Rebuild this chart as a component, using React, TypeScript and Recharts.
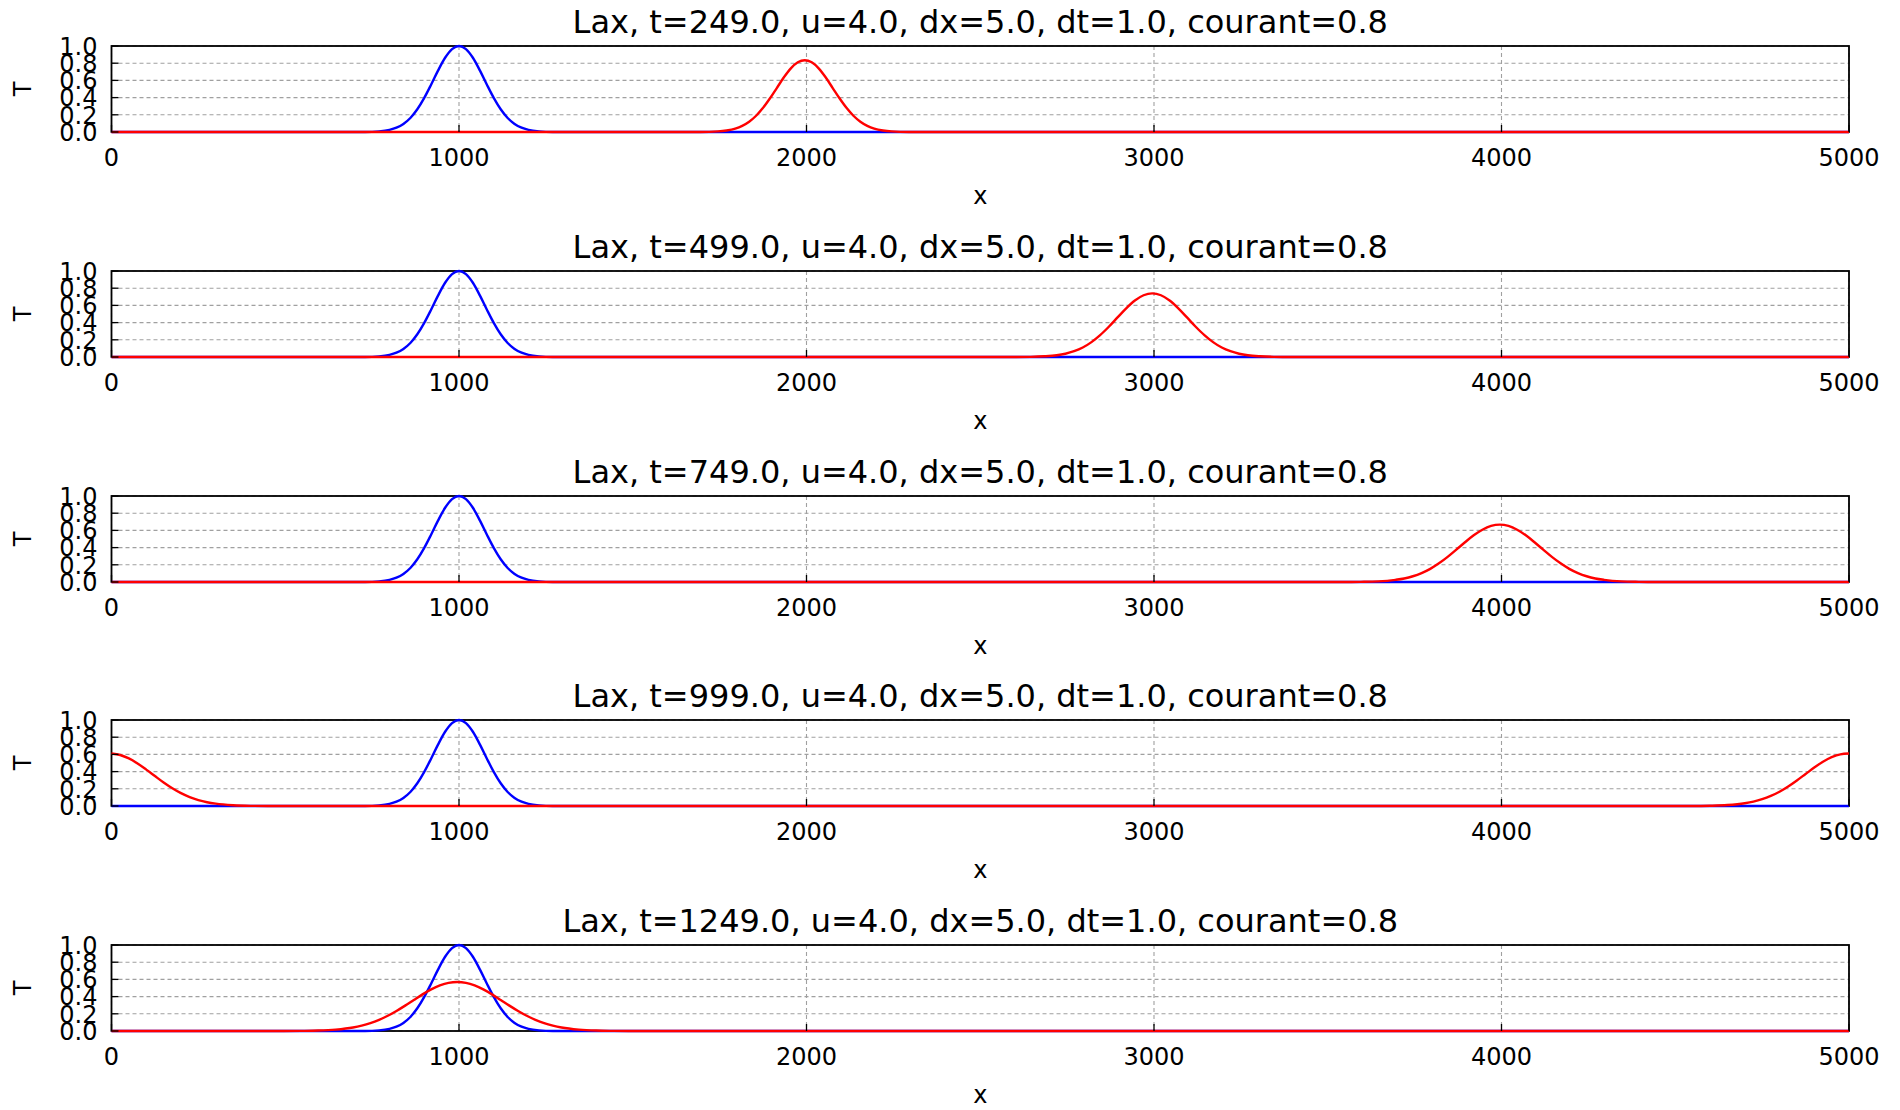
import React from 'react';
import { LineChart, Line, XAxis, YAxis, CartesianGrid, Customized } from 'recharts';

// ---------- data ----------
const xTicks = [0, 1000, 2000, 3000, 4000, 5000];
const yTicks = [0, 0.2, 0.4, 0.6, 0.8, 1.0];
const times = ['249.0', '499.0', '749.0', '999.0', '1249.0'];
const uLabel = '4.0';
const dxLabel = '5.0';
const dtLabel = '1.0';
const courantLabel = '0.8';

// initial profile (blue), identical in every panel
const initialX = [0, 730, 770, 800, 820, 840, 860, 880, 900, 920, 940, 960, 980, 1000, 1020, 1040, 1060, 1080, 1100, 1120, 1140, 1160, 1180, 1200, 1230, 1270, 5000];
const initialT = [0, 0, 0.0075, 0.025, 0.05, 0.094, 0.163, 0.264, 0.397, 0.553, 0.717, 0.863, 0.964, 1.0, 0.964, 0.863, 0.717, 0.553, 0.397, 0.264, 0.163, 0.094, 0.05, 0.025, 0.0075, 0, 0];

// Lax solution (red) at each time
const lax249X = [0, 1695, 1745, 1770, 1795, 1815, 1835, 1855, 1875, 1895, 1915, 1935, 1955, 1975, 1995, 2015, 2035, 2055, 2075, 2095, 2115, 2135, 2155, 2175, 2195, 2220, 2245, 2295, 5000];
const lax249T = [0, 0, 0.007, 0.018, 0.04, 0.072, 0.12, 0.189, 0.281, 0.392, 0.514, 0.636, 0.74, 0.81, 0.835, 0.81, 0.74, 0.636, 0.514, 0.392, 0.281, 0.189, 0.12, 0.072, 0.04, 0.018, 0.007, 0, 0];

const lax499X = [0, 2595, 2645, 2685, 2720, 2745, 2770, 2795, 2820, 2845, 2870, 2895, 2920, 2945, 2970, 2995, 3020, 3045, 3070, 3095, 3120, 3145, 3170, 3195, 3220, 3245, 3270, 3305, 3345, 3395, 5000];
const lax499T = [0, 0, 0.002, 0.008, 0.02, 0.038, 0.067, 0.11, 0.173, 0.254, 0.352, 0.46, 0.566, 0.657, 0.718, 0.74, 0.718, 0.657, 0.566, 0.46, 0.352, 0.254, 0.173, 0.11, 0.067, 0.038, 0.02, 0.008, 0.002, 0, 0];

const lax749X = [0, 3545, 3595, 3645, 3695, 3720, 3745, 3770, 3795, 3820, 3845, 3870, 3895, 3920, 3945, 3970, 3995, 4020, 4045, 4070, 4095, 4120, 4145, 4170, 4195, 4220, 4245, 4270, 4295, 4345, 4395, 4445, 5000];
const lax749T = [0, 0, 0.002, 0.007, 0.025, 0.041, 0.067, 0.104, 0.153, 0.217, 0.292, 0.376, 0.462, 0.543, 0.608, 0.652, 0.667, 0.652, 0.608, 0.543, 0.462, 0.376, 0.292, 0.217, 0.153, 0.104, 0.067, 0.041, 0.025, 0.007, 0.002, 0, 0];

const lax999X = [0, 25, 50, 75, 100, 125, 150, 175, 200, 225, 250, 275, 300, 350, 400, 450, 4550, 4600, 4650, 4700, 4725, 4750, 4775, 4800, 4825, 4850, 4875, 4900, 4925, 4950, 4975, 5000];
const lax999T = [0.61, 0.593, 0.553, 0.494, 0.423, 0.348, 0.274, 0.207, 0.15, 0.104, 0.069, 0.044, 0.027, 0.009, 0.002, 0, 0, 0.003, 0.011, 0.032, 0.051, 0.079, 0.117, 0.166, 0.227, 0.297, 0.372, 0.447, 0.514, 0.568, 0.601, 0.61];

const lax1249X = [0, 495, 545, 595, 645, 695, 720, 745, 770, 795, 820, 845, 870, 895, 920, 945, 970, 995, 1020, 1045, 1070, 1095, 1120, 1145, 1170, 1195, 1220, 1245, 1270, 1295, 1345, 1395, 1445, 1495, 5000];
const lax1249T = [0, 0, 0.0015, 0.005, 0.016, 0.041, 0.063, 0.092, 0.13, 0.177, 0.233, 0.295, 0.361, 0.426, 0.484, 0.53, 0.56, 0.57, 0.56, 0.53, 0.484, 0.426, 0.361, 0.295, 0.233, 0.177, 0.13, 0.092, 0.063, 0.041, 0.016, 0.005, 0.0015, 0, 0];

const zip = (xs: number[], ts: number[]) => xs.map((x, i) => ({ x, T: ts[i] }));

const initialData = zip(initialX, initialT);
const laxData = [
  zip(lax249X, lax249T),
  zip(lax499X, lax499T),
  zip(lax749X, lax749T),
  zip(lax999X, lax999T),
  zip(lax1249X, lax1249T),
];

// ---------- layout ----------
const FONT = "'DejaVu Sans', 'Bitstream Vera Sans', sans-serif";
const CHART_W = 1900;
const CHART_H = 225;
const STEP = 224.75;
const PLOT_LEFT = 111.5;
const PLOT_RIGHT = 1849;
const PLOT_TOP = 46;
const PLOT_BOTTOM = 132;
const Y_AXIS_W = 100;
const TICK_LEN = 7;
const TICK_FONT = 24;
const TITLE_FONT = 32;
const FRAME = { stroke: '#000', strokeWidth: 1.8 };

const BottomTick = (props: any) => {
  const { x, y, payload } = props;
  return (
    <g>
      <line x1={x} y1={y} x2={x} y2={y - TICK_LEN} stroke="#000" strokeWidth={1.3} />
      <text x={x} y={y + 34} textAnchor="middle" fontSize={TICK_FONT} fontFamily={FONT} fill="#000">
        {payload.value}
      </text>
    </g>
  );
};

const TopTick = (props: any) => {
  const { x, y } = props;
  return <line x1={x} y1={y + 1} x2={x} y2={y + 1 + TICK_LEN} stroke="#000" strokeWidth={1.3} />;
};

const LeftTick = (props: any) => {
  const { x, y, payload } = props;
  return (
    <g>
      <line x1={x} y1={y} x2={x + TICK_LEN} y2={y} stroke="#000" strokeWidth={1.3} />
      <text x={x - 14} y={y + 8.8} textAnchor="end" fontSize={TICK_FONT} fontFamily={FONT} fill="#000">
        {Number(payload.value).toFixed(1)}
      </text>
    </g>
  );
};

const RightTick = (props: any) => {
  const { x, y } = props;
  return <line x1={x - 1} y1={y} x2={x - 1 - TICK_LEN} y2={y} stroke="#000" strokeWidth={1.3} />;
};

const Frame = () => (
  <rect
    x={PLOT_LEFT}
    y={PLOT_TOP}
    width={PLOT_RIGHT - PLOT_LEFT}
    height={PLOT_BOTTOM - PLOT_TOP}
    fill="none"
    {...FRAME}
  />
);

const Panel = ({ index }: { index: number }) => {
  const title = `Lax, t=${times[index]}, u=${uLabel}, dx=${dxLabel}, dt=${dtLabel}, courant=${courantLabel}`;
  const cx = (PLOT_LEFT + PLOT_RIGHT) / 2;
  const cy = (PLOT_TOP + PLOT_BOTTOM) / 2;
  const Labels = () => (
    <g fontFamily={FONT} fill="#000">
      <text x={cx} y={33} textAnchor="middle" fontSize={TITLE_FONT}>{title}</text>
      <text x={cx} y={204} textAnchor="middle" fontSize={TICK_FONT}>x</text>
      <text x={31} y={cy} textAnchor="middle" fontSize={TICK_FONT} transform={`rotate(-90 31 ${cy})`}>T</text>
    </g>
  );
  return (
    <div style={{ position: 'absolute', left: 0, top: index * STEP, width: CHART_W, height: CHART_H }}>
      <LineChart
        width={CHART_W}
        height={CHART_H}
        margin={{ top: PLOT_TOP - 1, left: PLOT_LEFT - Y_AXIS_W, right: CHART_W - PLOT_RIGHT - 1, bottom: 0 }}
      >
        <CartesianGrid stroke="#a0a0a0" strokeWidth={1.1} strokeDasharray="4 3" />
        <Customized component={Frame} />
        <XAxis
          dataKey="x"
          type="number"
          domain={[0, 5000]}
          ticks={xTicks}
          interval={0}
          height={CHART_H - PLOT_BOTTOM}
          tickSize={0}
          tickMargin={0}
          axisLine={false}
          tick={(p: any) => <BottomTick {...p} />}
        />
        <XAxis
          xAxisId="top"
          orientation="top"
          dataKey="x"
          type="number"
          domain={[0, 5000]}
          ticks={xTicks}
          interval={0}
          height={1}
          tickSize={0}
          tickMargin={0}
          axisLine={false}
          tick={(p: any) => <TopTick {...p} />}
        />
        <YAxis
          type="number"
          domain={[0, 1]}
          ticks={yTicks}
          interval={0}
          width={Y_AXIS_W}
          tickSize={0}
          tickMargin={0}
          axisLine={false}
          tick={(p: any) => <LeftTick {...p} />}
        />
        <YAxis
          yAxisId="right"
          orientation="right"
          type="number"
          domain={[0, 1]}
          ticks={yTicks}
          interval={0}
          width={1}
          tickSize={0}
          tickMargin={0}
          axisLine={false}
          tick={(p: any) => <RightTick {...p} />}
        />
        <Line
          data={initialData}
          dataKey="T"
          type="monotone"
          stroke="#0000ff"
          strokeWidth={2.4}
          dot={false}
          activeDot={false}
          isAnimationActive={false}
        />
        <Line
          data={laxData[index]}
          dataKey="T"
          type="monotone"
          stroke="#ff0000"
          strokeWidth={2.4}
          dot={false}
          activeDot={false}
          isAnimationActive={false}
        />
        <Customized component={Labels} />
      </LineChart>
    </div>
  );
};

export default function App() {
  return (
    <div style={{ position: 'absolute', left: 0, top: 0, width: 1900, height: 1110, background: '#fff', overflow: 'hidden' }}>
      {times.map((_, i) => (
        <Panel key={i} index={i} />
      ))}
    </div>
  );
}
